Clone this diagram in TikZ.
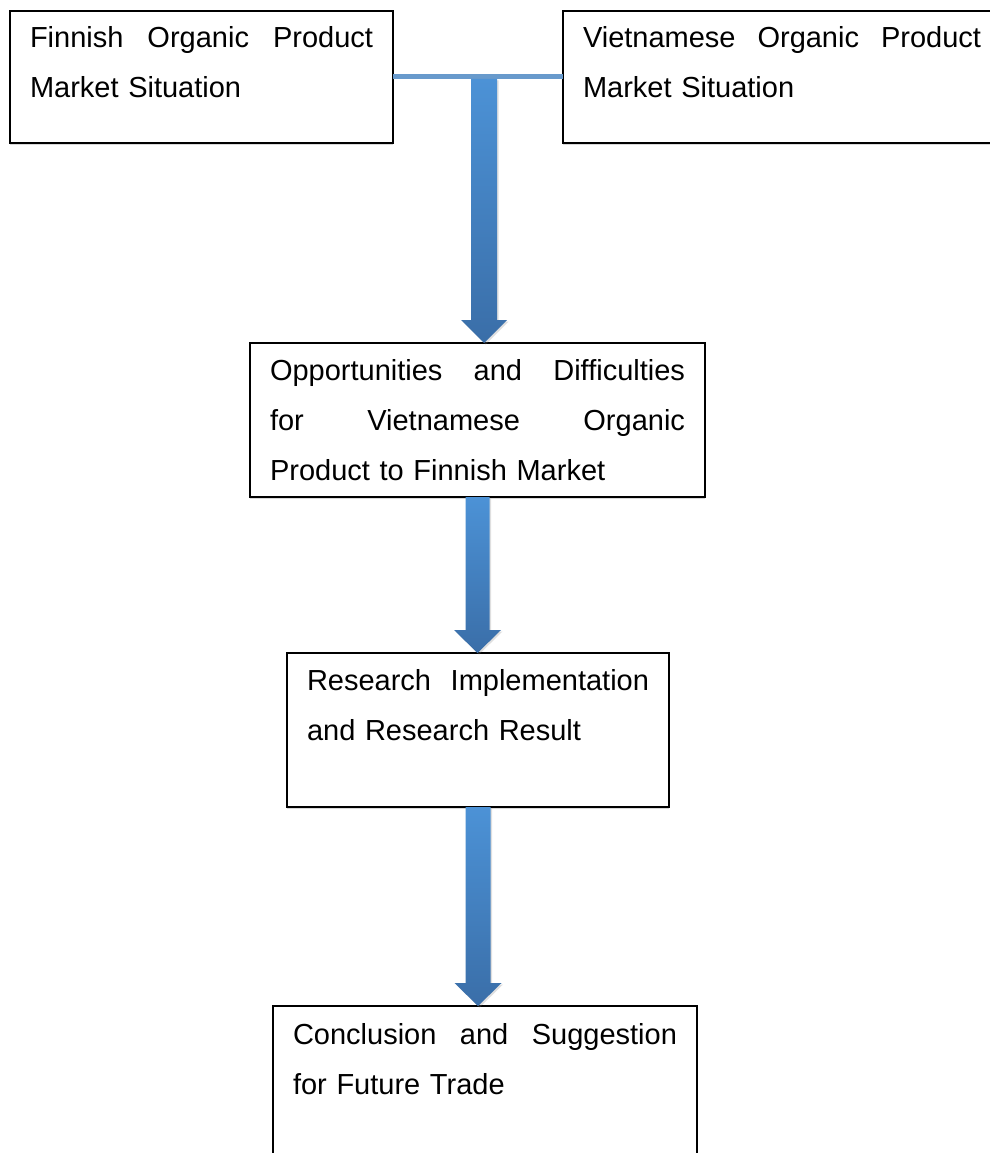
\documentclass[tikz,border=0pt]{standalone}
\usepackage{fontspec}
\setmainfont{Liberation Sans}
\usetikzlibrary{calc,shadows}
\definecolor{arrtop}{RGB}{76,146,214}
\definecolor{arrbot}{RGB}{58,110,168}
\definecolor{barcol}{RGB}{104,154,204}
\tikzset{
  box/.style={draw=black, line width=1.3pt, fill=white, inner sep=0pt, outer sep=0pt,
    anchor=north west,
    drop shadow={shadow xshift=0pt, shadow yshift=-1.5pt, opacity=0.3}},
  boxtext/.style={anchor=base west, inner sep=0pt, outer sep=0pt, align=left,
    font=\fontsize{29}{50}\selectfont},
  fatarrow/.style={top color=arrtop, bottom color=arrbot, draw=none,
    drop shadow={shadow xshift=1.5pt, shadow yshift=-1.5pt, opacity=0.25}},
  joinbar/.style={draw=barcol, line width=5pt,
    drop shadow={shadow xshift=0pt, shadow yshift=-2pt, opacity=0.2}}
}
% #1 start, #2 end, #3 shaft half width, #4 head half width
\newcommand{\fatarr}[4]{%
  \path[fatarrow] let \p1=(#1), \p2=(#2) in
    (\x1-#3,\y1) -- (\x1+#3,\y1) -- (\x1+#3,\y2+23pt) -- (\x1+#4,\y2+23pt)
    -- (\x1,\y2) -- (\x1-#4,\y2+23pt) -- (\x1-#3,\y2+23pt) -- cycle;}
\newcommand{\jline}[2]{\leavevmode\hbox to #1{#2}}
\begin{document}
\begin{tikzpicture}[x=1pt,y=-1pt]
  \useasboundingbox (0,0) rectangle (989,1153);
  \fill[white] (0,0) rectangle (989,1153);

  % boxes
  \node[box, minimum width=383pt, minimum height=132pt] (A) at (10,11) {};
  \node[box, minimum width=440pt, minimum height=132pt] (B) at (563,11) {};
  \node[box, minimum width=455pt, minimum height=154pt] (C) at (250,343) {};
  \node[box, minimum width=382pt, minimum height=154pt] (D) at (287,653) {};
  \node[box, minimum width=424pt, minimum height=200pt] (E) at (273,1006) {};

  % texts
  \node[boxtext, text width=343pt] (tA) at (30,48)
    {\jline{343pt}{Finnish\hfill Organic\hfill Product}\\Market Situation};
  \node[boxtext, text width=400pt] (tB) at (583,48)
    {\jline{398pt}{Vietnamese\hfill Organic\hfill Product}\\Market Situation};
  \node[boxtext, text width=415pt] (tC) at (270,380)
    {\jline{415pt}{Opportunities\hfill and\hfill Difficulties}\\
     \jline{415pt}{for\hfill Vietnamese\hfill Organic}\\
     Product to Finnish Market};
  \node[boxtext, text width=342pt] (tD) at (307,690)
    {\jline{342pt}{Research\hfill Implementation}\\and Research Result};
  \node[boxtext, text width=384pt] (tE) at (293,1044)
    {\jline{384pt}{Conclusion\hfill and\hfill Suggestion}\\for Future Trade};

  % joining bar and arrows
  \draw[joinbar] (A.east |- 0,76.5) -- (B.west |- 0,76.5);
  \coordinate (j) at (484,79);
  \fatarr{j}{C.north -| j}{13pt}{23pt}
  \fatarr{C.south}{D.north -| C.south}{12pt}{23.5pt}
  \fatarr{D.south}{E.north -| D.south}{12.5pt}{23.5pt}
\end{tikzpicture}
\end{document}
